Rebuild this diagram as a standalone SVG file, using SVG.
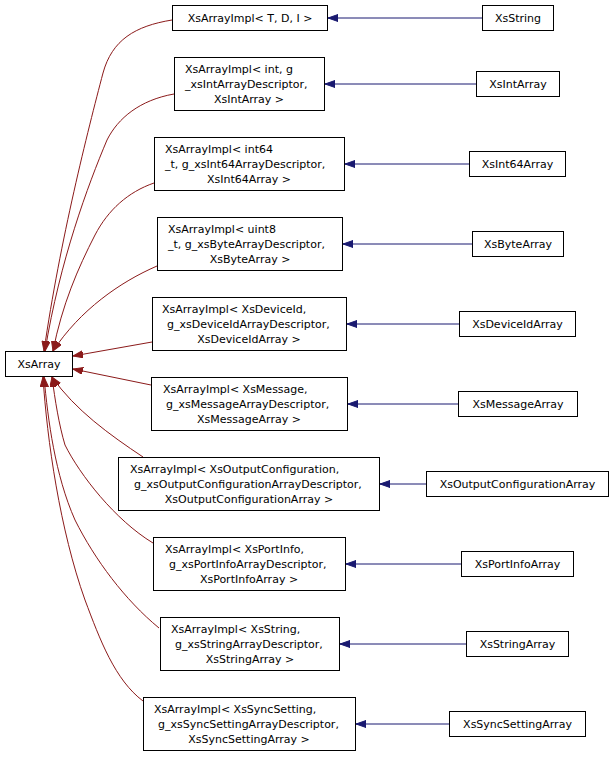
<svg xmlns="http://www.w3.org/2000/svg" width="613" height="757" viewBox="0 0 613 757">
<defs>
<style>
.n rect{fill:#fff;stroke:#000;stroke-width:1}
text{font-family:"DejaVu Sans",Verdana,sans-serif;font-size:11px;fill:#000}
.c{text-anchor:middle}
.red{fill:none;stroke:#8b1a1a;stroke-width:1}
.blue{fill:none;stroke:#191970;stroke-width:1}
</style>
<marker id="ar" markerWidth="11" markerHeight="8" refX="10" refY="3.5" orient="auto" markerUnits="userSpaceOnUse">
<path d="M0,0 L10,3.5 L0,7 z" fill="#8b1a1a" stroke="#8b1a1a" stroke-width="1"/>
</marker>
<marker id="ab" markerWidth="11" markerHeight="8" refX="10" refY="3.5" orient="auto" markerUnits="userSpaceOnUse">
<path d="M0,0 L10,3.5 L0,7 z" fill="#191970" stroke="#191970" stroke-width="1"/>
</marker>
</defs>
<rect width="613" height="757" fill="#fff"/>
<g id="connectors">
<path class="red" marker-end="url(#ar)" d="M172,20 C135,26 112,40 103,73 C88,130 60,240 44,351"/>
<path class="red" marker-end="url(#ar)" d="M174,94 C140,100 118,118 107,140 C88,185 60,260 45,351"/>
<path class="red" marker-end="url(#ar)" d="M154,183 C128,192 108,210 95,235 C78,268 62,305 53,351"/>
<path class="red" marker-end="url(#ar)" d="M157,266 C120,282 80,310 53,351"/>
<path class="red" marker-end="url(#ar)" d="M152,342 L73,356"/>
<path class="red" marker-end="url(#ar)" d="M151,385 L73,369"/>
<path class="red" marker-end="url(#ar)" d="M143,457 C110,435 75,410 52,377"/>
<path class="red" marker-end="url(#ar)" d="M153,543 C115,520 80,475 65,445 C59,425 55,400 52,377"/>
<path class="red" marker-end="url(#ar)" d="M159,628 C125,600 95,560 75,520 C55,475 48,420 44,377"/>
<path class="red" marker-end="url(#ar)" d="M143,701 C115,680 100,640 85,600 C60,530 47,440 43,377"/>
<path class="blue" marker-end="url(#ab)" d="M482,18 L328,18"/>
<path class="blue" marker-end="url(#ab)" d="M476,84 L325,84"/>
<path class="blue" marker-end="url(#ab)" d="M469,164 L345,164"/>
<path class="blue" marker-end="url(#ab)" d="M472,244 L343,244"/>
<path class="blue" marker-end="url(#ab)" d="M459,324 L347,324"/>
<path class="blue" marker-end="url(#ab)" d="M458,404 L348,404"/>
<path class="blue" marker-end="url(#ab)" d="M426,484 L380,484"/>
<path class="blue" marker-end="url(#ab)" d="M461,564 L346,564"/>
<path class="blue" marker-end="url(#ab)" d="M466,644 L340,644"/>
<path class="blue" marker-end="url(#ab)" d="M449,724 L356,724"/>
</g>
<g id="XsArray" class="n"><rect x="5.5" y="351.5" width="67" height="25"/><text class="c" x="39" y="368">XsArray</text></g>
<g id="ImplTDI" class="n"><rect x="172.5" y="5.5" width="155" height="25"/><text class="c" x="250" y="22">XsArrayImpl&lt; T, D, I &gt;</text></g>
<g id="ImplInt" class="n"><rect x="174.5" y="57.5" width="150" height="53"/><text x="185" y="73">XsArrayImpl&lt; int, g</text><text x="185" y="88">_xsIntArrayDescriptor,</text><text class="c" x="249" y="103">XsIntArray &gt;</text></g>
<g id="ImplInt64" class="n"><rect x="154.5" y="137.5" width="190" height="53"/><text x="165" y="153">XsArrayImpl&lt; int64</text><text x="165" y="168">_t, g_xsInt64ArrayDescriptor,</text><text class="c" x="249" y="183">XsInt64Array &gt;</text></g>
<g id="ImplByte" class="n"><rect x="157.5" y="217.5" width="185" height="53"/><text x="168" y="233">XsArrayImpl&lt; uint8</text><text x="168" y="248">_t, g_xsByteArrayDescriptor,</text><text class="c" x="250" y="263">XsByteArray &gt;</text></g>
<g id="ImplDeviceId" class="n"><rect x="152.5" y="297.5" width="194" height="53"/><text x="162" y="313">XsArrayImpl&lt; XsDeviceId,</text><text x="167" y="328">g_xsDeviceIdArrayDescriptor,</text><text class="c" x="249" y="343">XsDeviceIdArray &gt;</text></g>
<g id="ImplMessage" class="n"><rect x="151.5" y="377.5" width="196" height="53"/><text x="163" y="393">XsArrayImpl&lt; XsMessage,</text><text x="166" y="408">g_xsMessageArrayDescriptor,</text><text class="c" x="249" y="423">XsMessageArray &gt;</text></g>
<g id="ImplOutput" class="n"><rect x="118.5" y="457.5" width="261" height="53"/><text x="130" y="473">XsArrayImpl&lt; XsOutputConfiguration,</text><text x="134" y="488">g_xsOutputConfigurationArrayDescriptor,</text><text class="c" x="249" y="503">XsOutputConfigurationArray &gt;</text></g>
<g id="ImplPortInfo" class="n"><rect x="153.5" y="537.5" width="192" height="53"/><text x="165" y="553">XsArrayImpl&lt; XsPortInfo,</text><text x="169" y="568">g_xsPortInfoArrayDescriptor,</text><text class="c" x="249" y="583">XsPortInfoArray &gt;</text></g>
<g id="ImplString" class="n"><rect x="160.5" y="617.5" width="179" height="53"/><text x="171" y="633">XsArrayImpl&lt; XsString,</text><text x="175" y="648">g_xsStringArrayDescriptor,</text><text class="c" x="250" y="663">XsStringArray &gt;</text></g>
<g id="ImplSync" class="n"><rect x="143.5" y="697.5" width="212" height="53"/><text x="154" y="713">XsArrayImpl&lt; XsSyncSetting,</text><text x="158" y="728">g_xsSyncSettingArrayDescriptor,</text><text class="c" x="249" y="743">XsSyncSettingArray &gt;</text></g>
<g id="XsString" class="n"><rect x="482.5" y="5.5" width="71" height="25"/><text class="c" x="518" y="22">XsString</text></g>
<g id="XsIntArray" class="n"><rect x="476.5" y="71.5" width="83" height="25"/><text class="c" x="518" y="88">XsIntArray</text></g>
<g id="XsInt64Array" class="n"><rect x="469.5" y="151.5" width="96" height="25"/><text class="c" x="517.5" y="168">XsInt64Array</text></g>
<g id="XsByteArray" class="n"><rect x="472.5" y="231.5" width="91" height="25"/><text class="c" x="518" y="248">XsByteArray</text></g>
<g id="XsDeviceIdArray" class="n"><rect x="459.5" y="311.5" width="116" height="25"/><text class="c" x="517.5" y="328">XsDeviceIdArray</text></g>
<g id="XsMessageArray" class="n"><rect x="458.5" y="391.5" width="119" height="25"/><text class="c" x="518" y="408">XsMessageArray</text></g>
<g id="XsOutputConfigurationArray" class="n"><rect x="426.5" y="471.5" width="182" height="25"/><text class="c" x="517.5" y="488">XsOutputConfigurationArray</text></g>
<g id="XsPortInfoArray" class="n"><rect x="461.5" y="551.5" width="112" height="25"/><text class="c" x="517.5" y="568">XsPortInfoArray</text></g>
<g id="XsStringArray" class="n"><rect x="466.5" y="631.5" width="102" height="25"/><text class="c" x="517.5" y="648">XsStringArray</text></g>
<g id="XsSyncSettingArray" class="n"><rect x="449.5" y="711.5" width="136" height="25"/><text class="c" x="517.5" y="728">XsSyncSettingArray</text></g>
</svg>
